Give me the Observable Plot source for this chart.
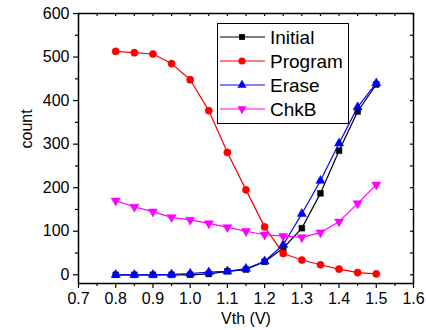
<!DOCTYPE html>
<html><head><meta charset="utf-8">
<script src="https://cdn.jsdelivr.net/npm/d3@7"></script>
<script src="https://cdn.jsdelivr.net/npm/@observablehq/plot@0.6"></script>
<style>body{margin:0;background:#fff;} svg{display:block;}</style>
</head><body><div id="chart"></div>
<script>
const vth = [0.8,0.85,0.9,0.95,1.0,1.05,1.1,1.15,1.2,1.25,1.3,1.35,1.4,1.45,1.5];
const initial = [0,0,0,0,0,2,8,12,30,61,107,187,285,375,437];
const program = [513,510,507,485,448,377,281,195,110,49,34,23,13,5,2];
const erase = [0,0,0,1,3,6,8,14,31,69,140,216,302,385,440];
const chkb = [170,156,145,132,126,118,109,100,92,89,86,97,122,164,207];
const seriesNames = ["Initial","Program","Erase","ChkB"];
const seriesValues = [initial, program, erase, chkb];
const colors = ["#000000","#ff0000","#0000ff","#ff00ff"];
const symbols = ["square","circle","triangle","triangle"];
const rotates = [0,0,0,180];
const radii = [3.3,3.6,3.4,3.4];
const xTicks = [0.7,0.8,0.9,1.0,1.1,1.2,1.3,1.4,1.5,1.6];
const xMinor = [0.75,0.85,0.95,1.05,1.15,1.25,1.35,1.45,1.55];
const yTicks = [0,100,200,300,400,500,600];
const yMinor = [50,150,250,350,450,550];

const rows = [];
seriesNames.forEach((name, i) => vth.forEach((v, j) => rows.push({s: name, x: v, y: seriesValues[i][j]})));

const marks = [];
seriesNames.forEach((name, i) => {
  const d = rows.filter(r => r.s === name);
  marks.push(Plot.line(d, {x: "x", y: "y", stroke: colors[i], strokeWidth: 1.2}));
  marks.push(Plot.dot(d, {x: "x", y: "y", fill: colors[i], stroke: colors[i], strokeWidth: 0.5, symbol: symbols[i], r: radii[i], rotate: rotates[i]}));
});

const chart = Plot.plot({
  width: 426, height: 330,
  marginLeft: 78, marginRight: 13, marginTop: 13, marginBottom: 47,
  style: {fontFamily: "'Liberation Sans', Arial, sans-serif", fontSize: "16px", background: "#fff", color: "#000"},
  x: {domain: [0.7, 1.6]},
  y: {domain: [-20, 600]},
  marks: [
    ...marks,
    Plot.frame({stroke: "#000", strokeWidth: 1.5}),
    Plot.axisX(xTicks, {anchor: "bottom", tickSize: 5, tickPadding: 4, tickFormat: d3.format(".1f"), fontSize: 16, label: null, strokeWidth: 1.2}),
    Plot.axisX(xMinor, {anchor: "bottom", tickSize: 3, tickFormat: () => "", label: null, strokeWidth: 1.2}),
    Plot.axisY(yTicks, {anchor: "left", tickSize: 5, tickPadding: 4, fontSize: 16, label: null, strokeWidth: 1.2}),
    Plot.axisY(yMinor, {anchor: "left", tickSize: 3, tickFormat: () => "", label: null, strokeWidth: 1.2}),
    Plot.ruleX(xTicks.concat(xMinor), {x: d => d, insetBottom: 267, stroke: "#000", strokeWidth: 1.2}),
    Plot.ruleY(yTicks.concat(yMinor), {y: d => d, insetLeft: 332, stroke: "#000", strokeWidth: 1.2}),
    Plot.text(["Vth (V)"], {frameAnchor: "bottom", dy: 40, fontSize: 16}),
    Plot.text(["count"], {frameAnchor: "left", dx: -52, rotate: -90, fontSize: 16})
  ]
});
document.getElementById("chart").appendChild(chart);

// legend
const svg = d3.select(chart);
const lg = svg.append("g");
lg.append("rect").attr("x", 217.5).attr("y", 23.5).attr("width", 131).attr("height", 100)
  .attr("fill", "#fff").attr("stroke", "#000").attr("stroke-width", 1);
const symGen = [d3.symbolSquare, d3.symbolCircle, d3.symbolTriangle, d3.symbolTriangle];
seriesNames.forEach((name, i) => {
  const yy = 37 + i * 24;
  lg.append("line").attr("x1", 220).attr("x2", 265).attr("y1", yy).attr("y2", yy)
    .attr("stroke", colors[i]).attr("stroke-width", 1.2);
  lg.append("path").attr("d", d3.symbol(symGen[i], Math.PI * radii[i] * radii[i])())
    .attr("transform", `translate(242,${yy}) rotate(${rotates[i]})`)
    .attr("fill", colors[i]);
  lg.append("text").attr("x", 270).attr("y", yy).attr("dy", "0.36em")
    .attr("text-anchor", "start")
    .style("font-size", "19px").attr("fill", "#000").text(name);
});
</script></body></html>
